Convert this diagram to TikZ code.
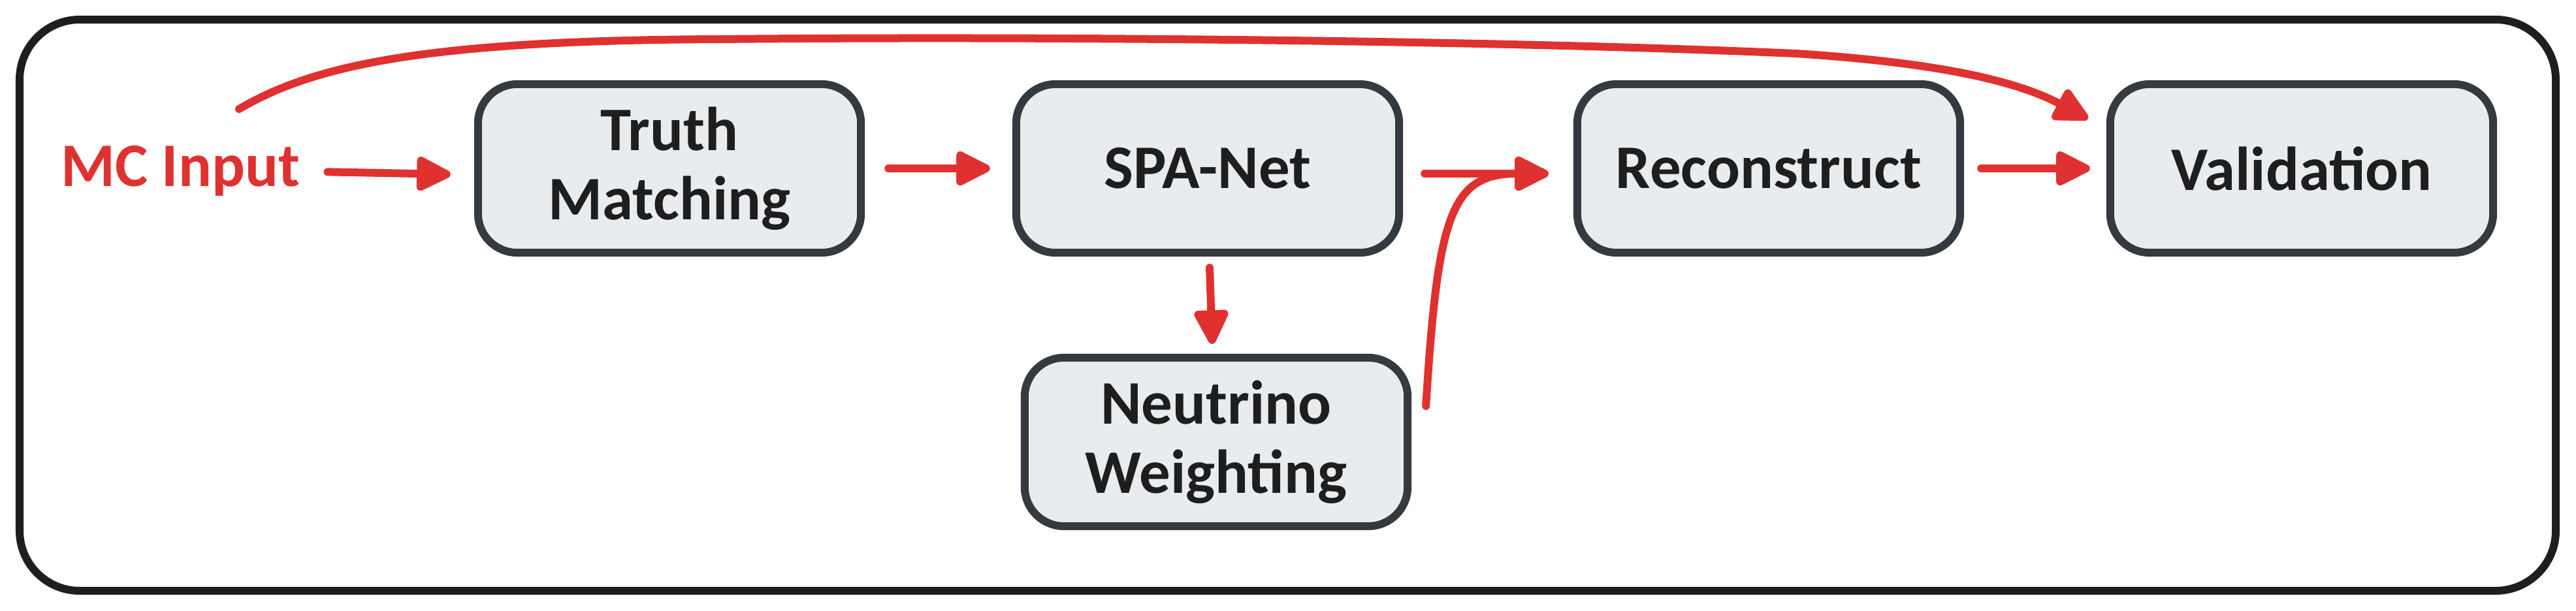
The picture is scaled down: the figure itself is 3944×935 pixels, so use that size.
\documentclass[tikz,border=0pt]{standalone}
\usepackage{fontspec}
\setmainfont{Carlito}
\usetikzlibrary{arrows.meta,calc}
\definecolor{exred}{HTML}{E03131}
\definecolor{boxstroke}{HTML}{343A40}
\definecolor{boxfill}{HTML}{E9ECEF}
\definecolor{ink}{HTML}{1E1E1E}
\begin{document}
\begin{tikzpicture}[x=0.01cm,y=-0.01cm,
  stage/.style={draw=boxstroke, fill=boxfill, line width=0.12cm, rounded corners=0.6cm,
    minimum width=5.86cm, minimum height=2.58cm, align=center, text=ink,
    font=\bfseries\fontsize{27}{30}\selectfont, inner sep=0pt},
  flow/.style={draw=exred, line width=0.12cm, line cap=round,
    -{Triangle[length=17pt,width=16pt,round]}},
  frame/.style={draw=ink, line width=0.12cm, rounded corners=0.92cm}
]
\useasboundingbox (0,0) rectangle (3944,935);
\draw[frame] (30,30) rectangle (3913,905);

\node[stage] (tm)  at (1025,258) {Truth\\Matching};
\node[stage] (spa) at (1849,258) {SPA-Net};
\node[stage] (rec) at (2708,258) {Reconstruct};
\node[stage] (val) at (3524,258) {Validation};
\node[stage] (nw)  at (1862,677) {Neutrino\\Weighting};
\node[text=exred, font=\bfseries\fontsize{27}{30}\selectfont, anchor=base, inner sep=0pt] (mc) at (276,285) {MC Input};

\coordinate (mctop) at (366,167);
\coordinate (nwout) at ($(nw.east)+(22,-55)$);

\draw[flow] ([xshift=0.42cm,yshift=-0.02cm]mc.east) -- ([xshift=-0.36cm,yshift=-0.09cm]tm.west);
\draw[flow] ([xshift=0.36cm]tm.east) -- ([xshift=-0.34cm]spa.west);
\draw[flow] ([xshift=0.33cm,yshift=-0.08cm]spa.east) -- ([xshift=-0.38cm,yshift=-0.08cm]rec.west);
\draw[flow] ([xshift=0.03cm,yshift=-0.17cm]spa.south) -- ([xshift=-0.06cm,yshift=0.15cm]nw.north);
\draw[flow] (nwout) .. controls +(18,-290) and +(-150,0) .. ([xshift=-0.38cm,yshift=-0.08cm]rec.west);
\draw[flow] ([xshift=0.26cm]rec.east) -- ([xshift=-0.25cm]val.west);
\draw[flow] (mctop) .. controls (480,100) and (650,62) .. (1100,60)
  .. controls (1600,55) and (2300,62) .. (2750,82)
  .. controls (2950,95) and (3080,120) .. ([xshift=-0.28cm,yshift=-0.59cm]val.north west);
\end{tikzpicture}
\end{document}
